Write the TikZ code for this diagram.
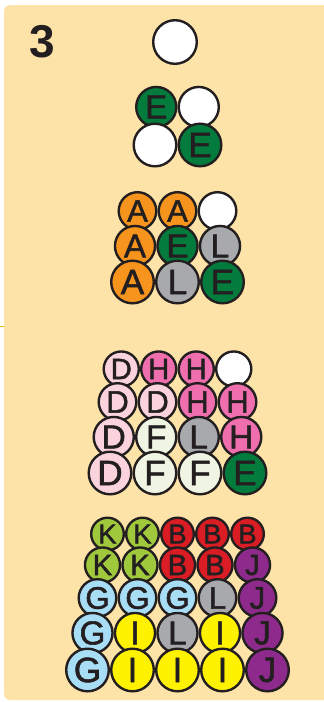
\documentclass[tikz,border=0pt]{standalone}
\usepackage{fontspec}
\setmainfont{Liberation Sans}
\newfontfamily\letras[FakeBold=1.6]{Liberation Sans}
\definecolor{fundo}{HTML}{FEE3A8}
\definecolor{contorno}{HTML}{231F20}
\definecolor{marca}{HTML}{F5B400}
\definecolor{corA}{HTML}{F7941D}
\definecolor{corB}{HTML}{DA1C24}
\definecolor{corD}{HTML}{FAD3DC}
\definecolor{corE}{HTML}{037B3C}
\definecolor{corF}{HTML}{EFF5E2}
\definecolor{corG}{HTML}{A8DDF6}
\definecolor{corH}{HTML}{EF6FAE}
\definecolor{corI}{HTML}{FFF200}
\definecolor{corJ}{HTML}{8E2A8C}
\definecolor{corK}{HTML}{A0C83C}
\definecolor{corL}{HTML}{A7A9AC}
\definecolor{corW}{HTML}{FFFFFF}
\tikzset{
    bola/.style={
        circle,
        draw=contorno,
        line width=2.4pt,
        inner sep=0pt,
        minimum size=#1,
        text=contorno
    },
    painel/.style={fill=fundo, rounded corners=6pt},
    numero/.style={font=\bfseries\fontsize{46}{46}\selectfont, text=contorno}
}
% uma fileira de bolas centrada no eixo da piramide
\newcommand{\fileira}[5]{%
    \foreach \cor/\letra [count=\i] in {#5}{
        \pgfmathsetmacro{\xc}{177.5+(\i-(#2+1)/2)*#4}
        \pgfmathsetmacro{\tam}{0.78*#4}
        \node[bola={#4pt-2.4pt}, fill=cor\cor,
            font=\letras\fontsize{\tam pt}{\tam pt}\selectfont]
            (#1-\i) at (\xc,#3) {\letra};
    }%
}
\begin{document}
\begin{tikzpicture}[x=1pt, y=-1pt]
    \useasboundingbox (0,0) rectangle (324,702);
    \fill[painel] (4,5) rectangle (334,700);
    \draw[marca, line width=1pt] (0,326) -- (4,326);
    \node[numero] (nivel) at (42,41.5) {3};

    % piramide de 1
    \node[bola=43.6pt, fill=corW] (topo) at (175,42) {};
    % piramide de 2
    \fileira{p2f1}{2}{107}{42.5}{E/E,W/{}}
    \fileira{p2f2}{2}{145}{45}{W/{},E/E}
    % piramide de 3
    \fileira{p3f1}{3}{211}{40}{A/A,A/A,W/{}}
    \fileira{p3f2}{3}{246}{42.5}{A/A,E/E,L/L}
    \fileira{p3f3}{3}{282}{45}{A/A,L/L,E/E}
    % piramide de 4
    \fileira{p4f1}{4}{369}{37.5}{D/D,H/H,H/H,W/{}}
    \fileira{p4f2}{4}{402}{40}{D/D,D/D,H/H,H/H}
    \fileira{p4f3}{4}{437}{42.5}{D/D,F/F,L/L,H/H}
    \fileira{p4f4}{4}{473}{45}{D/D,F/F,F/F,E/E}
    % piramide de 5
    \fileira{p5f1}{5}{534}{35}{K/K,K/K,B/B,B/B,B/B}
    \fileira{p5f2}{5}{565}{37.5}{K/K,K/K,B/B,B/B,J/J}
    \fileira{p5f3}{5}{598}{40}{G/G,G/G,G/G,L/L,J/J}
    \fileira{p5f4}{5}{633}{42.5}{G/G,I/I,L/L,I/I,J/J}
    \fileira{p5f5}{5}{670}{45}{G/G,I/I,I/I,I/I,J/J}
\end{tikzpicture}
\end{document}
